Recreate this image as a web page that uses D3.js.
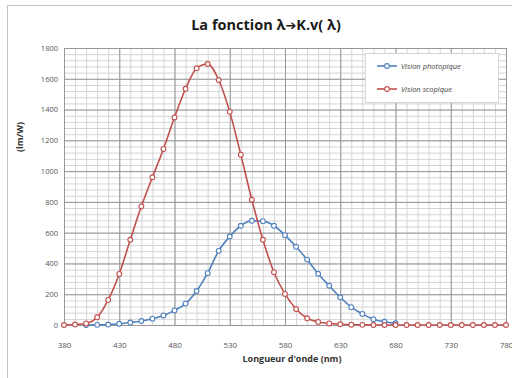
<!DOCTYPE html>
<html>
<head>
<meta charset="utf-8">
<script src="https://cdn.jsdelivr.net/npm/d3@7"></script>
<style>
  html, body { margin: 0; padding: 0; background: #fff; }
  svg { display: block; font-family: "Open Sans", "Liberation Sans", sans-serif; }
</style>
</head>
<body>
<svg id="chart" width="512" height="378"></svg>
<script>
// wavelengths (nm)
const scotopicLambda = d3.range(380, 790, 10);
const photopicLambda = d3.range(400, 690, 10);

// lm/W
const scotopicValues = [
  0, 3, 10, 50, 163, 332, 554, 771, 960, 1144,
  1349, 1535, 1668, 1696, 1592, 1385, 1107, 814, 554, 343,
  202, 104, 44, 20, 10, 5, 2, 1, 0, 0,
  0, 0, 0, 0, 0, 0, 0, 0, 0, 0, 0
];
const photopicValues = [
  0, 1, 3, 8, 16, 26, 41, 62, 95, 139,
  221, 337, 482, 575, 645, 677, 675, 645, 584, 508,
  425, 333, 255, 180, 116, 72, 38, 21, 11
];

const xTicks = [380, 430, 480, 530, 580, 630, 680, 730, 780];
const yTicks = [0, 200, 400, 600, 800, 1000, 1200, 1400, 1600, 1800];

const seriesNames = ['Vision photopique', 'Vision scopique'];
const seriesColors = ['#4f81bd', '#c0504d'];

const svg = d3.select('#chart');

const x = d3.scaleLinear().domain([380, 780]).range([64, 506]);
const y = d3.scaleLinear().domain([0, 1800]).range([325, 48]);

// outer frame
svg.append('rect')
  .attr('x', 7.5)
  .attr('y', 5.5)
  .attr('width', 520)
  .attr('height', 390)
  .attr('fill', '#fff')
  .attr('stroke', '#c4c4c4');

// title
const title = svg.append('text')
  .attr('x', 266)
  .attr('y', 30)
  .attr('text-anchor', 'middle')
  .attr('font-size', 14.5)
  .attr('font-weight', 'bold')
  .attr('fill', '#1a1a1a');

title.append('tspan').text('La fonction λ');
title.append('tspan')
  .attr('font-family', '"DejaVu Sans", sans-serif')
  .attr('font-size', 13)
  .text('➔');
title.append('tspan').text('K.v( λ)');

// grid: minor first, then major on top
const grid = svg.append('g').attr('class', 'grid');

grid.append('g')
  .attr('transform', `translate(0,${y(0)})`)
  .call(d3.axisBottom(x).tickValues(d3.range(380, 781, 10)).tickSize(y(1800) - y(0)).tickFormat(''))
  .call(g => g.select('.domain').remove())
  .call(g => g.selectAll('line').attr('stroke', '#d4d4d4'));

grid.append('g')
  .attr('transform', `translate(${x(380)},0)`)
  .call(d3.axisLeft(y).tickValues(d3.range(0, 1801, 40)).tickSize(x(380) - x(780)).tickFormat(''))
  .call(g => g.select('.domain').remove())
  .call(g => g.selectAll('line').attr('stroke', '#d4d4d4'));

grid.append('g')
  .attr('transform', `translate(0,${y(0)})`)
  .call(d3.axisBottom(x).tickValues(xTicks).tickSize(y(1800) - y(0)).tickFormat(''))
  .call(g => g.select('.domain').remove())
  .call(g => g.selectAll('line').attr('stroke', '#979797'));

grid.append('g')
  .attr('transform', `translate(${x(380)},0)`)
  .call(d3.axisLeft(y).tickValues(yTicks).tickSize(x(380) - x(780)).tickFormat(''))
  .call(g => g.select('.domain').remove())
  .call(g => g.selectAll('line').attr('stroke', '#979797'));

// tick labels
svg.append('g')
  .attr('transform', `translate(0,${y(0) + 14})`)
  .call(d3.axisBottom(x).tickValues(xTicks).tickSize(0).tickFormat(d3.format('d')))
  .call(g => g.select('.domain').remove())
  .call(g => g.selectAll('text')
    .attr('font-size', 8)
    .attr('fill', '#555')
    .attr('font-family', '"Open Sans", sans-serif'));

svg.append('g')
  .attr('transform', `translate(${x(380) - 6},0)`)
  .call(d3.axisLeft(y).tickValues(yTicks).tickSize(0).tickPadding(0).tickFormat(d3.format('d')))
  .call(g => g.select('.domain').remove())
  .call(g => g.selectAll('text')
    .attr('font-size', 7.5)
    .attr('fill', '#555')
    .attr('font-family', '"Open Sans", sans-serif'));

// axis titles
svg.append('text')
  .attr('transform', 'translate(23,137) rotate(-90)')
  .attr('text-anchor', 'middle')
  .attr('font-size', 9)
  .attr('font-weight', 'bold')
  .attr('fill', '#333')
  .text('(lm/W)');

svg.append('text')
  .attr('x', 292)
  .attr('y', 362)
  .attr('text-anchor', 'middle')
  .attr('font-size', 9)
  .attr('font-weight', 'bold')
  .attr('fill', '#333')
  .text('Longueur d\'onde (nm)');

// series
const series = [
  photopicLambda.map((l, i) => ({ l, v: photopicValues[i] })),
  scotopicLambda.map((l, i) => ({ l, v: scotopicValues[i] }))
];

const line = d3.line()
  .x(d => x(d.l))
  .y(d => y(d.v))
  .curve(d3.curveMonotoneX);

series.forEach((points, i) => {
  const g = svg.append('g').attr('class', 'series');

  g.append('path')
    .datum(points)
    .attr('d', line)
    .attr('fill', 'none')
    .attr('stroke', seriesColors[i])
    .attr('stroke-width', 1.6);

  g.selectAll('circle')
    .data(points)
    .enter()
      .append('circle')
      .attr('cx', d => x(d.l))
      .attr('cy', d => y(d.v))
      .attr('r', 2.4)
      .attr('fill', '#fff')
      .attr('stroke', seriesColors[i])
      .attr('stroke-width', 1.1);
});

// legend
const legend = svg.append('g').attr('class', 'legend');

legend.append('rect')
  .attr('x', 365.5)
  .attr('y', 53.5)
  .attr('width', 133)
  .attr('height', 49)
  .attr('fill', '#fff')
  .attr('stroke', '#d6d6d6');

const items = legend.selectAll('g.item')
  .data(seriesNames)
  .enter()
    .append('g')
    .attr('class', 'item')
    .attr('transform', (d, i) => `translate(0,${66 + i * 23})`);

items.append('line')
  .attr('x1', 377)
  .attr('x2', 397)
  .attr('stroke', (d, i) => seriesColors[i])
  .attr('stroke-width', 1.6);

items.append('circle')
  .attr('cx', 387)
  .attr('r', 2.4)
  .attr('fill', '#fff')
  .attr('stroke', (d, i) => seriesColors[i])
  .attr('stroke-width', 1.1);

items.append('text')
  .attr('x', 401)
  .attr('dy', '0.35em')
  .attr('font-size', 7.5)
  .attr('font-style', 'italic')
  .attr('fill', '#444')
  .text(d => d);
</script>
</body>
</html>
